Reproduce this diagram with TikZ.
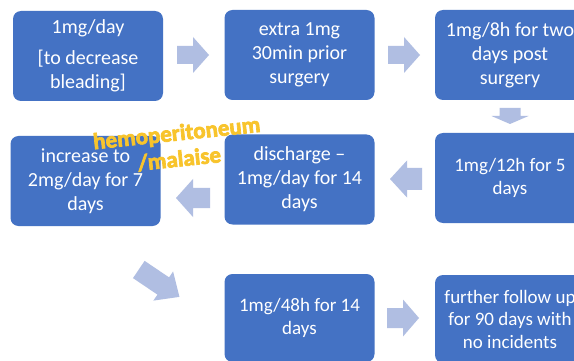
\documentclass[tikz,border=0pt]{standalone}
\usepackage{fontspec}
\setmainfont{Carlito}
\newfontfamily\labelfont{Carlito}[UprightFont=* Bold, UprightFeatures={FakeBold=3}]
\definecolor{boxblue}{RGB}{68,114,196}
\definecolor{arrowfill}{RGB}{176,190,226}
\definecolor{labelfill}{RGB}{248,196,44}
\newcommand{\blkarrow}[8]{%
  \begin{scope}[shift={(#2,#3)},rotate=#4]
    \fill[arrowfill] (0,-#7) -- ({#5-#6},-#7) -- ({#5-#6},-#8) -- (#5,0) coordinate (#1)
      -- ({#5-#6},#8) -- ({#5-#6},#7) -- (0,#7) -- cycle;
  \end{scope}}
\begin{document}
\begin{tikzpicture}[x=1pt,y=-1pt,
  box/.style={rectangle, rounded corners=8pt, fill=boxblue, text=white,
    minimum width=150pt, minimum height=90pt, align=center, inner sep=0pt,
    font=\fontsize{20}{24}\selectfont},
  smallbox/.style={box, font=\fontsize{19}{22.5}\selectfont},
  lab/.style={rotate=6, align=center, inner sep=0pt, text=labelfill,
    font=\labelfont\fontsize{23}{26}\selectfont}]
\useasboundingbox (0,0) rectangle (574,361);
\clip (0,0) rectangle (574,361);
\fill[white] (0,0) rectangle (574,361);
% row 1
\node[box] (b1) at (88,56) {1mg/day\\[7pt]{[}to decrease\\bleading]};
\node[box] (b2) at (299.5,55) {extra 1mg\\30min prior\\surgery};
\node[box] (b3) at (510,55) {1mg/8h for two\\days post\\surgery};
% row 2
\node[box] (b6) at (85.5,181) {increase to\\2mg/day for 7\\days};
\node[box] (b5) at (299.5,179.5) {discharge --\\1mg/day for 14\\days};
\node[smallbox] (b4) at (510,178) {1mg/12h for 5\\days};
% row 3
\node[smallbox,minimum height=88pt] (b7) at (299.5,318) {1mg/48h for 14\\days};
\node[smallbox,minimum height=88pt] (b8) at (510,319) {further follow up\\for 90 days with\\no incidents};
% block arrows
\blkarrow{a1}{177}{55}{0}{32}{16}{9}{18}
\blkarrow{a2}{388}{55}{0}{32}{16}{9}{18}
\blkarrow{a3}{510}{108}{-90}{16}{8}{10.5}{18.5}
\blkarrow{a4}{422}{179}{180}{32}{17}{11}{18.5}
\blkarrow{a5}{210}{198}{180}{34}{17}{10}{19}
\blkarrow{a6}{138.8}{269.5}{-34}{49}{19.5}{10.4}{17.6}
\blkarrow{a7}{387}{318}{0}{32}{16}{10}{18.5}
% label
\node[lab] (lbl) at (178,146) {hemoperitoneum\\/malaise};
\end{tikzpicture}
\end{document}
